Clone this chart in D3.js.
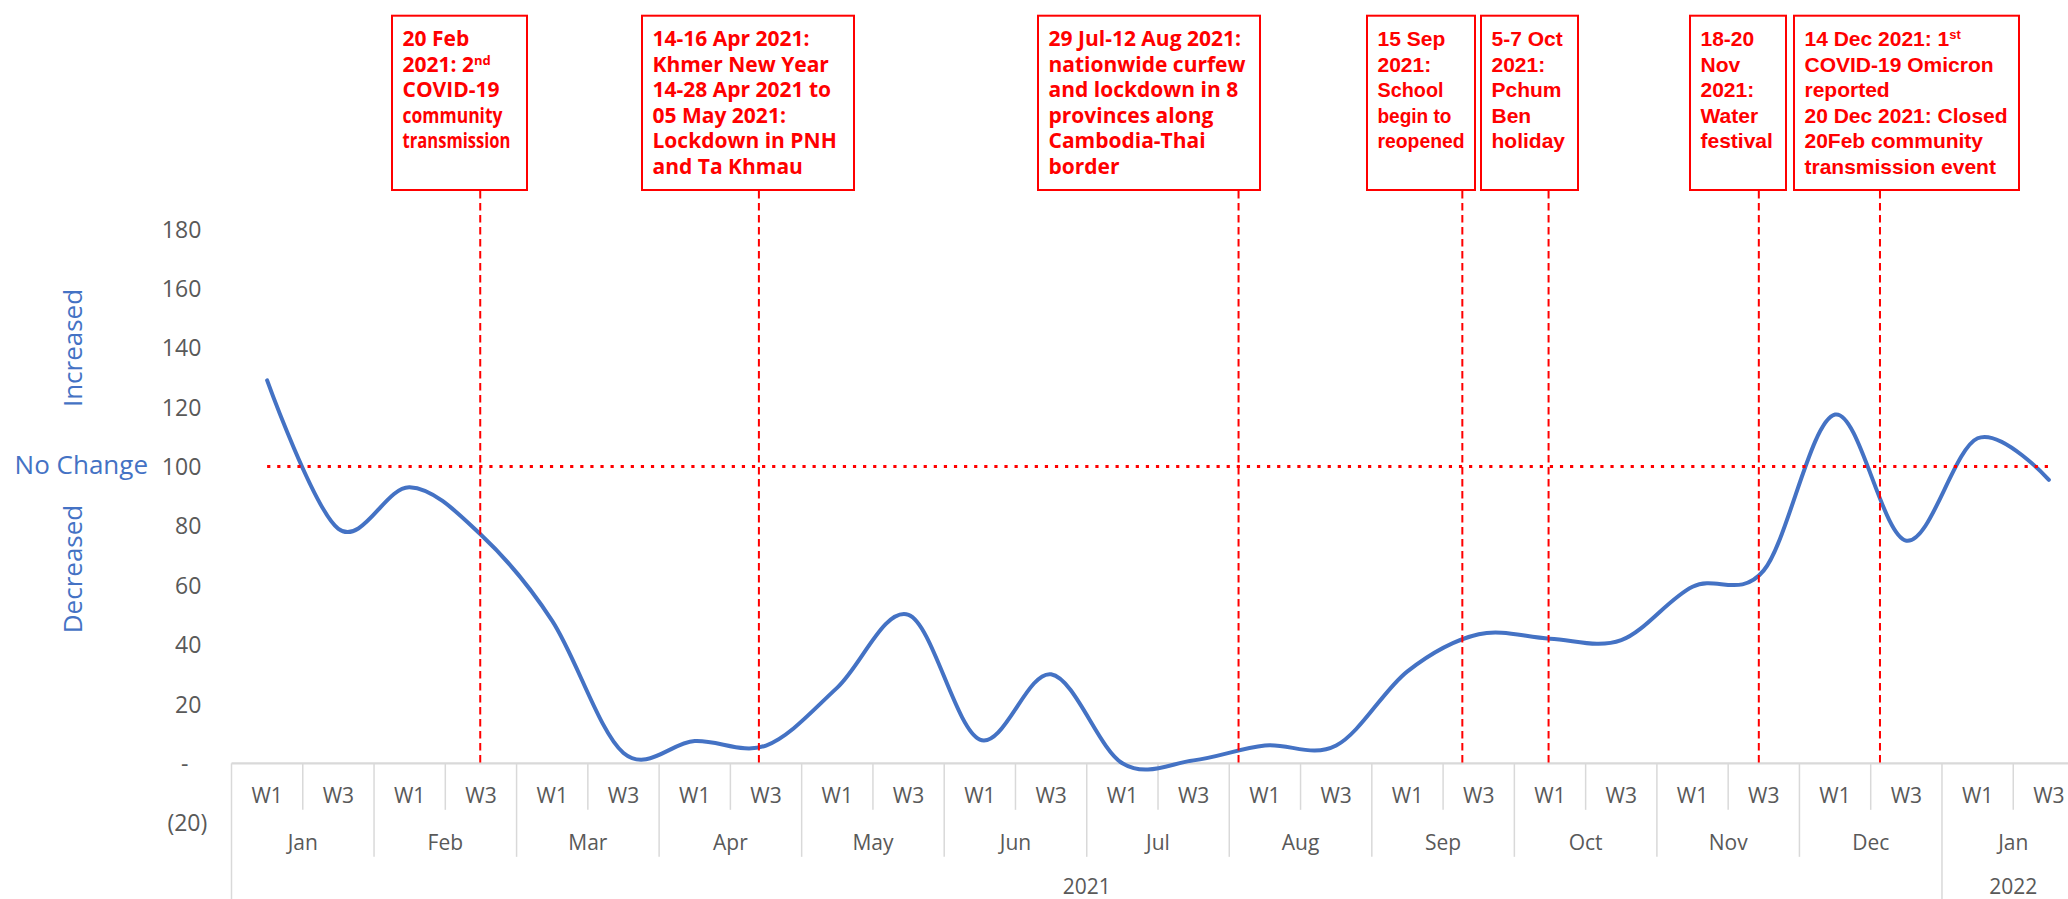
<!DOCTYPE html>
<html>
<head>
<meta charset="utf-8">
<script src="https://cdn.jsdelivr.net/npm/d3@7"></script>
<style>
  html, body { margin: 0; padding: 0; background: #ffffff; }
  svg { display: block; }
</style>
</head>
<body>
<svg id="chart" width="2068" height="899"></svg>
<script>
// ---------------- DATA ----------------
const months = ["Jan","Feb","Mar","Apr","May","Jun","Jul","Aug","Sep","Oct","Nov","Dec","Jan"];
const monthYears = ["2021","2021","2021","2021","2021","2021","2021","2021","2021","2021","2021","2021","2022"];
const weeks = ["W1","W3"];
// mobility index, one value per week slot (W1, W3 of each month)
const indexValues = [129, 79, 93, 77, 48, 3.5, 7.5, 6, 25.5, 50, 8, 30, 0, 1, 6, 6, 31, 43.5, 42, 41.5, 59.5, 65, 117.5, 75, 109.5, 95.5];
const noChangeValue = 100;
const yTicks = [-20, 0, 20, 40, 60, 80, 100, 120, 140, 160, 180];
// event positions, in week-slot units counted from the start of the axis
const eventPositions = [3.49, 7.40, 14.13, 17.27, 18.48, 21.43, 23.13];
const eventTexts = [
  ["20 Feb", "2021: 2^nd", "COVID-19", "community", "transmission"],
  ["14-16 Apr 2021:", "Khmer New Year", "14-28 Apr 2021 to", "05 May 2021:", "Lockdown in PNH", "and Ta Khmau"],
  ["29 Jul-12 Aug 2021:", "nationwide curfew", "and lockdown in 8", "provinces along", "Cambodia-Thai", "border"],
  ["15 Sep", "2021:", "School", "begin to", "reopened"],
  ["5-7 Oct", "2021:", "Pchum", "Ben", "holiday"],
  ["18-20", "Nov", "2021:", "Water", "festival"],
  ["14 Dec 2021: 1^st", "COVID-19 Omicron", "reported", "20 Dec 2021: Closed", "20Feb community", "transmission event"]
];
const axisTitles = { up: "Increased", mid: "No Change", down: "Decreased" };

// ---------------- LAYOUT / STYLE ----------------
const W = 2068, H = 899;
const plotLeft = 231.5, slot = 71.27;
const boxTop = 15.7, boxBottom = 190;
const boxLayout = [
  { x0: 392,  x1: 527,  family: "'Open Sans', sans-serif", squeeze: { 3: 100, 4: 108 } },
  { x0: 642,  x1: 854,  family: "'Open Sans', sans-serif", squeeze: {} },
  { x0: 1038, x1: 1260, family: "'Open Sans', sans-serif", squeeze: {} },
  { x0: 1367, x1: 1475, family: "'Liberation Sans', Arial, sans-serif", squeeze: { 2: 66, 3: 74, 4: 87 } },
  { x0: 1481, x1: 1578, family: "'Liberation Sans', Arial, sans-serif", squeeze: {} },
  { x0: 1690, x1: 1786, family: "'Liberation Sans', Arial, sans-serif", squeeze: {} },
  { x0: 1794, x1: 2019, family: "'Liberation Sans', Arial, sans-serif", squeeze: {} }
];
const RED = "#FF0000", BLUE = "#4472C4", GREY_TXT = "#595959", GREY_LINE = "#D9D9D9";

const svg = d3.select("#chart");

const keys = months.flatMap((m, i) => weeks.map(w => `${i}|${w}`));
const x = d3.scaleBand().domain(keys).range([plotLeft, plotLeft + slot * keys.length]);
const xPos = d3.scaleLinear().domain([0, keys.length]).range(x.range());
const y = d3.scaleLinear().domain([-20, 180]).range([822.7, 229]);
const cx = k => x(k) + x.bandwidth() / 2;
const y0 = y(0);

// ---------------- Y AXIS ----------------
const yAxis = svg.append("g")
  .attr("transform", `translate(${plotLeft},0)`)
  .call(d3.axisLeft(y).tickValues(yTicks).tickSize(0)
    .tickFormat(v => v > 0 ? d3.format(",")(v) : v === 0 ? "-" : `(${Math.abs(v)})`));
yAxis.select(".domain").remove();
yAxis.selectAll("text")
  .attr("font-family", "'Open Sans', sans-serif")
  .attr("font-size", 23)
  .attr("fill", GREY_TXT)
  .attr("x", v => v > 0 ? -30.2 : v === 0 ? -43 : -24.2)
  .attr("dy", "0.35em");

// axis titles
svg.append("text")
  .attr("transform", `translate(81.7,${348}) rotate(-90)`)
  .attr("text-anchor", "middle")
  .attr("font-family", "'Open Sans', sans-serif").attr("font-size", 26).attr("fill", BLUE)
  .text(axisTitles.up);
svg.append("text")
  .attr("transform", `translate(81.7,${569}) rotate(-90)`)
  .attr("text-anchor", "middle")
  .attr("font-family", "'Open Sans', sans-serif").attr("font-size", 26).attr("fill", BLUE)
  .text(axisTitles.down);
svg.append("text")
  .attr("x", 148).attr("y", y(noChangeValue)).attr("dy", "0.3em")
  .attr("text-anchor", "end")
  .attr("font-family", "'Open Sans', sans-serif").attr("font-size", 26).attr("fill", BLUE)
  .text(axisTitles.mid);

// ---------------- X AXIS (multi-level) ----------------
const xg = svg.append("g");
keys.forEach((k, i) => {
  const isMonth = i % 2 === 0;
  const isYear = isMonth && (i === 0 || monthYears[i / 2] !== monthYears[i / 2 - 1]);
  const len = isYear ? (H - y0) : isMonth ? 93.5 : 46.5;
  xg.append("line")
    .attr("x1", x(k)).attr("x2", x(k))
    .attr("y1", y0).attr("y2", y0 + len)
    .attr("stroke", GREY_LINE).attr("stroke-width", 1.5);
});
xg.append("line")
  .attr("x1", x.range()[0]).attr("x2", x.range()[1])
  .attr("y1", y0).attr("y2", y0)
  .attr("stroke", GREY_LINE).attr("stroke-width", 2.2);

const wkAxis = svg.append("g")
  .attr("transform", `translate(0,${y0})`)
  .call(d3.axisBottom(x).tickSize(0).tickFormat(k => k.split("|")[1]));
wkAxis.select(".domain").remove();
wkAxis.selectAll("text")
  .attr("font-family", "'Open Sans', sans-serif").attr("font-size", 21).attr("fill", GREY_TXT)
  .attr("y", 32).attr("dy", "0.35em");

months.forEach((m, i) => {
  const k0 = keys[i * 2];
  xg.append("text")
    .attr("x", x(k0) + x.bandwidth()).attr("y", y0 + 79).attr("dy", "0.35em")
    .attr("text-anchor", "middle")
    .attr("font-family", "'Open Sans', sans-serif").attr("font-size", 21).attr("fill", GREY_TXT)
    .text(m);
});
const yearGroups = d3.groups(months.map((m, i) => ({ i, yr: monthYears[i] })), d => d.yr);
yearGroups.forEach(([yr, arr]) => {
  const first = keys[arr[0].i * 2];
  const last = keys[arr[arr.length - 1].i * 2 + 1];
  const mid = (x(first) + x(last) + x.bandwidth()) / 2;
  xg.append("text")
    .attr("x", mid).attr("y", y0 + 123.5).attr("dy", "0.35em")
    .attr("text-anchor", "middle")
    .attr("font-family", "'Open Sans', sans-serif").attr("font-size", 21).attr("fill", GREY_TXT)
    .text(yr);
});

// ---------------- SERIES ----------------
const lineGen = d3.line()
  .x((d, i) => cx(keys[i]))
  .y(d => y(d))
  .curve(d3.curveCardinal.tension(0));

svg.append("path")
  .datum(indexValues)
  .attr("d", lineGen)
  .attr("fill", "none")
  .attr("stroke", BLUE)
  .attr("stroke-width", 4)
  .attr("stroke-linejoin", "round")
  .attr("stroke-linecap", "round");

svg.append("path")
  .datum(keys.map(() => noChangeValue))
  .attr("d", d3.line().x((d, i) => cx(keys[i])).y(d => y(d)))
  .attr("fill", "none")
  .attr("stroke", RED)
  .attr("stroke-width", 3.2)
  .attr("stroke-dasharray", "3.2 6.9");

// ---------------- EVENTS ----------------
eventPositions.forEach((p, i) => {
  svg.append("line")
    .attr("x1", xPos(p)).attr("x2", xPos(p))
    .attr("y1", boxBottom + 1).attr("y2", y0)
    .attr("stroke", RED).attr("stroke-width", 2)
    .attr("stroke-dasharray", "7.5 4.5");
});

eventTexts.forEach((lines, i) => {
  const b = boxLayout[i];
  const g = svg.append("g");
  g.append("rect")
    .attr("x", b.x0).attr("y", boxTop)
    .attr("width", b.x1 - b.x0).attr("height", boxBottom - boxTop)
    .attr("fill", "#ffffff").attr("stroke", RED).attr("stroke-width", 2);
  lines.forEach((ln, j) => {
    const parts = ln.split("^");
    const t = g.append("text")
      .attr("x", b.x0 + 10.5).attr("y", 46 + j * 25.5)
      .attr("font-family", b.family).attr("font-weight", "bold")
      .attr("font-size", 21).attr("fill", RED);
    if (b.squeeze[j]) {
      t.attr("textLength", b.squeeze[j]).attr("lengthAdjust", "spacingAndGlyphs");
    }
    t.append("tspan").text(parts[0]);
    if (parts[1]) {
      t.append("tspan").attr("font-size", 13).attr("dy", -7).text(parts[1]);
    }
  });
});
</script>
</body>
</html>
